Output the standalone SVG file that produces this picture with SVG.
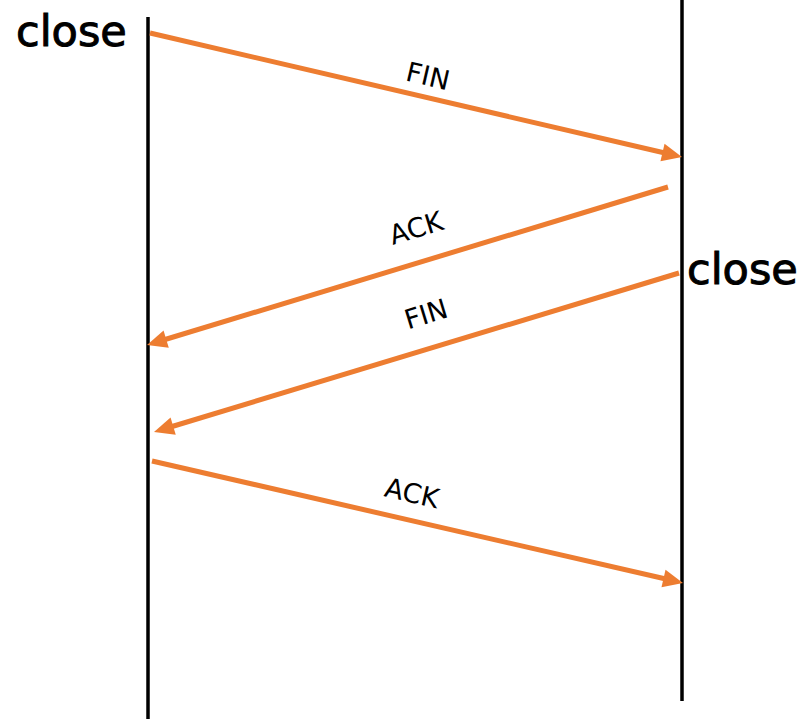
<svg xmlns="http://www.w3.org/2000/svg" width="802" height="721" viewBox="0 0 802 721">
<style>
.life{stroke:#000;stroke-width:3.5;fill:none}
.msg{stroke:#ED7D31;stroke-width:5;fill:none;marker-end:url(#ah)}
.lbl{font-family:"DejaVu Sans","Noto Sans",sans-serif;font-size:27px;fill:#000;text-anchor:middle;dominant-baseline:central}
.big{font-family:"DejaVu Sans","Noto Sans",sans-serif;font-size:43px;fill:#000;stroke:#000;stroke-width:1}
</style>
<defs>
<marker id="ah" markerUnits="userSpaceOnUse" viewBox="-8 -9 22 18" refX="0" refY="0" markerWidth="22" markerHeight="18" orient="auto" overflow="visible">
<path d="M-8,-9 L12,0 L-8,9 Z" fill="#ED7D31"/>
</marker>
</defs>
<rect width="802" height="721" fill="#fff"/>
<g id="client">
<line class="life" x1="148" y1="17" x2="148" y2="719"/>
<text class="big" x="16" y="46">close</text>
</g>
<g id="server">
<line class="life" x1="682" y1="0" x2="682" y2="701"/>
<text class="big" x="687" y="284">close</text>
</g>
<g id="connectors">
<line class="msg" x1="150" y1="33" x2="670.3" y2="154.3"/>
<line class="msg" x1="668" y1="187" x2="158.5" y2="341.5"/>
<line class="msg" x1="679" y1="273" x2="165.5" y2="428.5"/>
<line class="msg" x1="152" y1="461" x2="671.3" y2="580.3"/>
<text class="lbl" transform="translate(428,76) rotate(13)">FIN</text>
<text class="lbl" transform="translate(416,228) rotate(-17)">ACK</text>
<text class="lbl" transform="translate(426,314) rotate(-17)">FIN</text>
<text class="lbl" transform="translate(412,493) rotate(13)">ACK</text>
</g>
</svg>
